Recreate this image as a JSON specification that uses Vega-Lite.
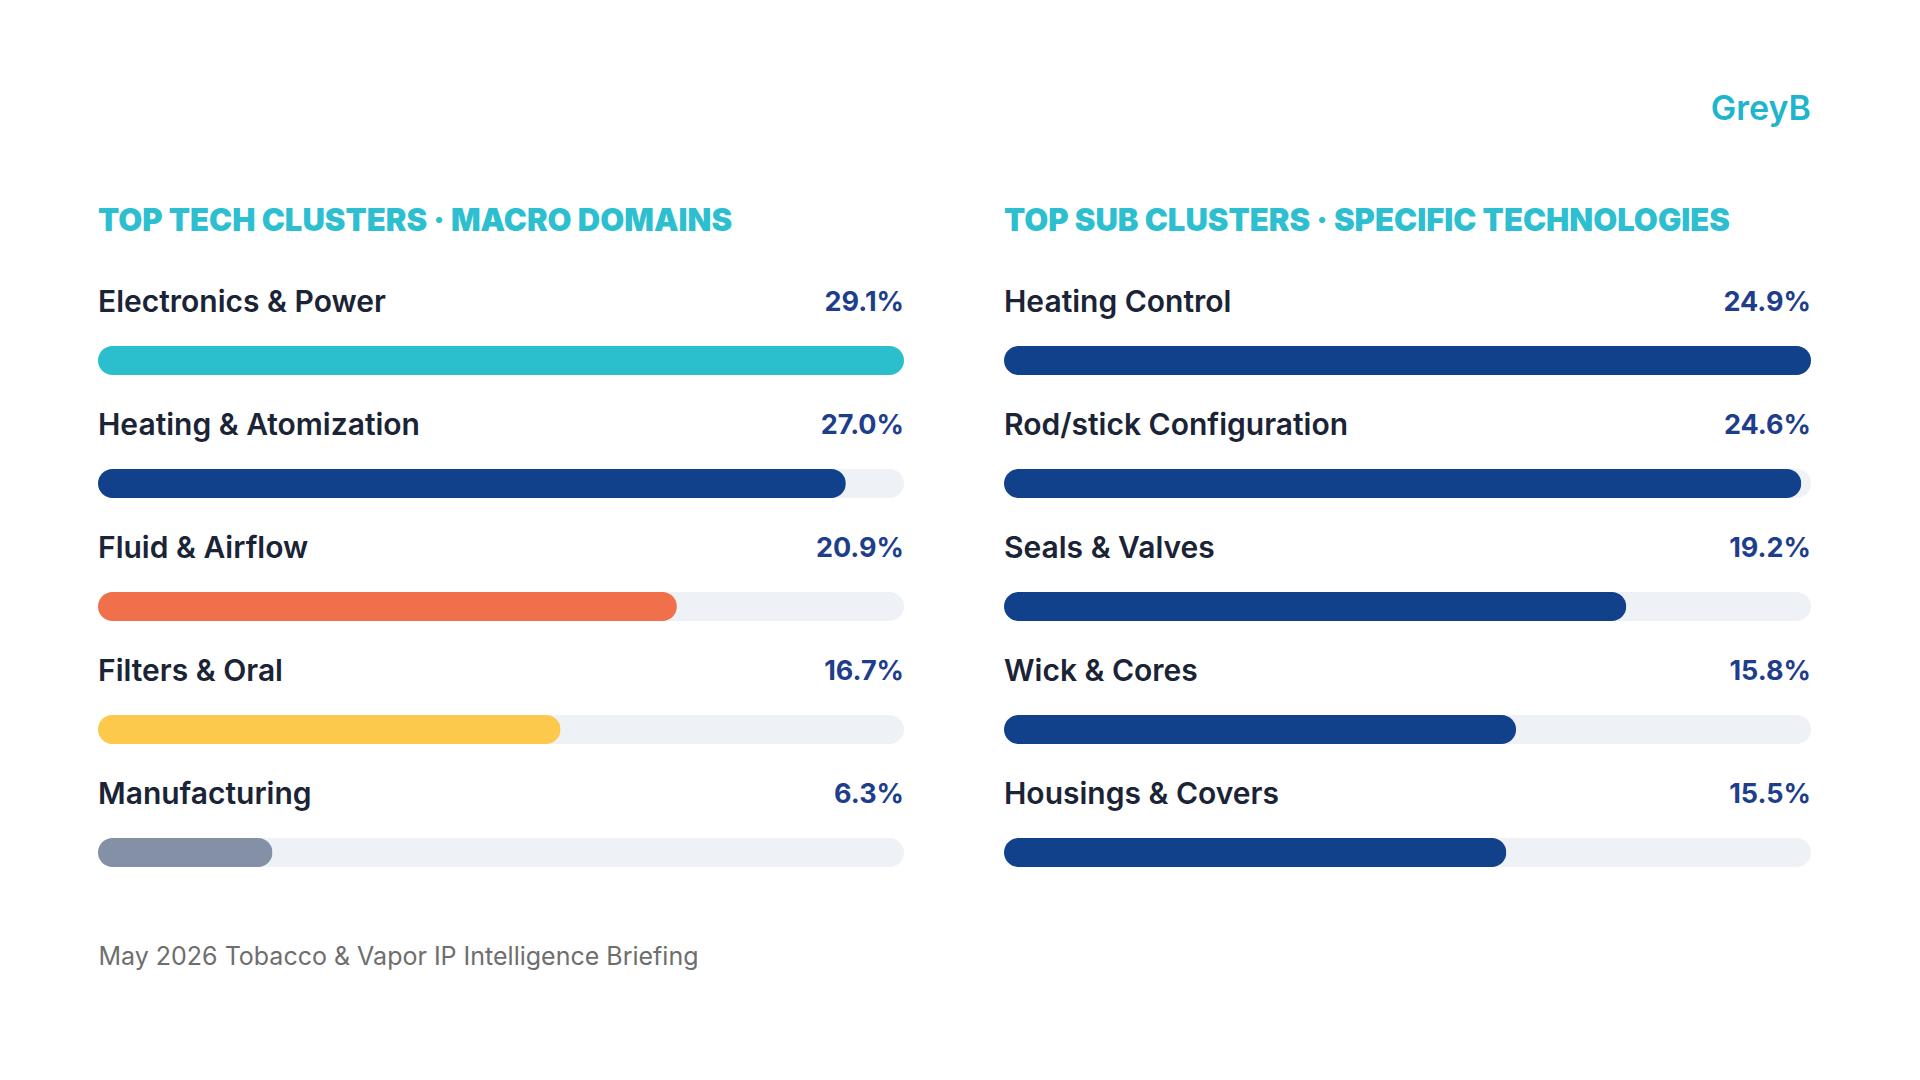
{
  "$schema": "https://vega.github.io/schema/vega-lite/v6.json",
  "background": "white",
  "padding": {"left": 98, "top": 92, "right": 100, "bottom": 40},
  "title": {
    "text": "GreyB",
    "anchor": "end",
    "font": "Inter",
    "fontSize": 34,
    "fontWeight": 600,
    "color": "#1FB5CD",
    "offset": 79
  },
  "config": {
    "view": {"stroke": null},
    "font": "Inter",
    "axisX": {
      "labels": false, "ticks": false, "domain": false, "grid": false,
      "titleAnchor": "start", "titleAlign": "left",
      "titleFont": "Inter", "titleFontSize": 25, "titleFontWeight": 400,
      "titleColor": "#6E6E6E", "titlePadding": 30
    }
  },
  "spacing": 100,
  "datasets": {
    "macro": [
      {"cluster": "Electronics & Power", "share": 0.291},
      {"cluster": "Heating & Atomization", "share": 0.270},
      {"cluster": "Fluid & Airflow", "share": 0.209},
      {"cluster": "Filters & Oral", "share": 0.167},
      {"cluster": "Manufacturing", "share": 0.063}
    ],
    "sub": [
      {"cluster": "Heating Control", "share": 0.249},
      {"cluster": "Rod/stick Configuration", "share": 0.246},
      {"cluster": "Seals & Valves", "share": 0.192},
      {"cluster": "Wick & Cores", "share": 0.158},
      {"cluster": "Housings & Covers", "share": 0.155}
    ]
  },
  "hconcat": [
    {
      "data": {"name": "macro"},
      "width": 806,
      "height": {"step": 123},
      "title": {
        "text": "TOP TECH CLUSTERS · MACRO DOMAINS",
        "anchor": "start",
        "font": "Inter",
        "fontSize": 31,
        "fontWeight": 900,
        "color": "#2DBFD0",
        "offset": 50
      },
      "transform": [{"joinaggregate": [{"op": "max", "field": "share", "as": "top"}]}],
      "encoding": {
        "y": {"field": "cluster", "type": "nominal", "sort": null, "axis": null,
              "scale": {"paddingInner": 0, "paddingOuter": 0}}
      },
      "layer": [
        {
          "mark": {"type": "bar", "size": 29, "cornerRadius": 14.5, "color": "#EEF1F5"},
          "encoding": {
            "x": {"field": "top", "type": "quantitative",
                  "scale": {"nice": false, "zero": true},
                  "axis": {"title": "May 2026 Tobacco & Vapor IP Intelligence Briefing"}}
          }
        },
        {
          "mark": {"type": "bar", "size": 29, "cornerRadius": 14.5},
          "encoding": {
            "x": {"field": "share", "type": "quantitative",
                  "axis": {"title": "May 2026 Tobacco & Vapor IP Intelligence Briefing"}},
            "color": {"field": "cluster", "type": "nominal", "legend": null,
                      "scale": {
                        "domain": ["Electronics & Power", "Heating & Atomization", "Fluid & Airflow", "Filters & Oral", "Manufacturing"],
                        "range": ["#2BBFCE", "#12418B", "#F0704C", "#FDC94C", "#8390A6"]
                      }}
          }
        },
        {
          "mark": {"type": "text", "align": "left", "baseline": "middle", "dy": -58,
                   "fontSize": 30, "fontWeight": 600, "color": "#1B2436"},
          "encoding": {
            "x": {"datum": 0, "type": "quantitative",
                  "axis": {"title": "May 2026 Tobacco & Vapor IP Intelligence Briefing"}},
            "text": {"field": "cluster", "type": "nominal"}
          }
        },
        {
          "mark": {"type": "text", "align": "right", "baseline": "middle", "dy": -58,
                   "fontSize": 27, "fontWeight": 700, "color": "#1E3E8C"},
          "encoding": {
            "x": {"field": "top", "type": "quantitative",
                  "axis": {"title": "May 2026 Tobacco & Vapor IP Intelligence Briefing"}},
            "text": {"field": "share", "type": "quantitative", "format": ".1%"}
          }
        }
      ]
    },
    {
      "data": {"name": "sub"},
      "width": 807,
      "height": {"step": 123},
      "title": {
        "text": "TOP SUB CLUSTERS · SPECIFIC TECHNOLOGIES",
        "anchor": "start",
        "font": "Inter",
        "fontSize": 31,
        "fontWeight": 900,
        "color": "#2DBFD0",
        "offset": 50
      },
      "transform": [{"joinaggregate": [{"op": "max", "field": "share", "as": "top"}]}],
      "encoding": {
        "y": {"field": "cluster", "type": "nominal", "sort": null, "axis": null,
              "scale": {"paddingInner": 0, "paddingOuter": 0}}
      },
      "layer": [
        {
          "mark": {"type": "bar", "size": 29, "cornerRadius": 14.5, "color": "#EEF1F5"},
          "encoding": {
            "x": {"field": "top", "type": "quantitative",
                  "scale": {"nice": false, "zero": true}, "axis": null}
          }
        },
        {
          "mark": {"type": "bar", "size": 29, "cornerRadius": 14.5, "color": "#12418B"},
          "encoding": {"x": {"field": "share", "type": "quantitative", "axis": null}}
        },
        {
          "mark": {"type": "text", "align": "left", "baseline": "middle", "dy": -58,
                   "fontSize": 30, "fontWeight": 600, "color": "#1B2436"},
          "encoding": {
            "x": {"datum": 0, "type": "quantitative", "axis": null},
            "text": {"field": "cluster", "type": "nominal"}
          }
        },
        {
          "mark": {"type": "text", "align": "right", "baseline": "middle", "dy": -58,
                   "fontSize": 27, "fontWeight": 700, "color": "#1E3E8C"},
          "encoding": {
            "x": {"field": "top", "type": "quantitative", "axis": null},
            "text": {"field": "share", "type": "quantitative", "format": ".1%"}
          }
        }
      ]
    }
  ]
}
